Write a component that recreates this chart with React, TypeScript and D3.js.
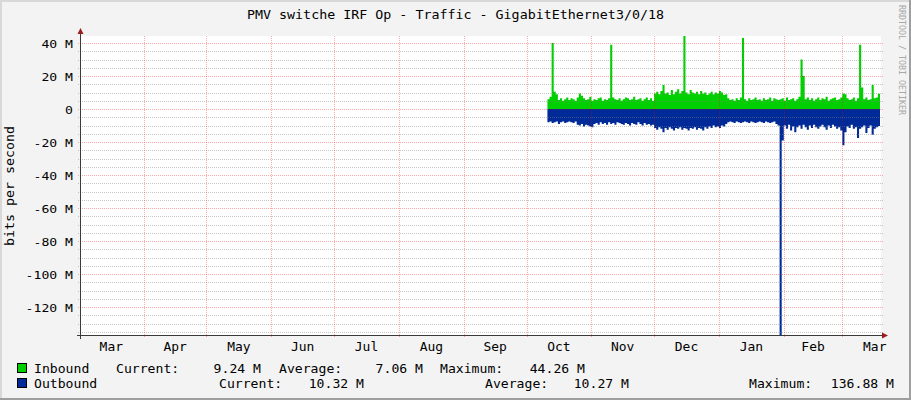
import React from 'react';
import * as d3 from 'd3';

const title = "PMV switche IRF Op - Traffic - GigabitEthernet3/0/18";
const yAxisTitle = "bits per second";
const watermark = "RRDTOOL / TOBI OETIKER";
const monthLabels = ["Mar", "Apr", "May", "Jun", "Jul", "Aug", "Sep", "Oct", "Nov", "Dec", "Jan", "Feb", "Mar"];
const yTickValues = [40, 20, 0, -20, -40, -60, -80, -100, -120];
const yTickLabels = ["40 M", "20 M", "0", "-20 M", "-40 M", "-60 M", "-80 M", "-100 M", "-120 M"];

// daily samples (Mbit/s) starting 2013-10-11
const inbound = [
  6.0, 7.5, 40.0, 10.5, 9.0, 5.5, 6.5, 5.0, 6.0, 7.0,
  5.5, 6.5, 6.0, 5.0, 7.0, 9.5, 8.0, 6.5, 5.5, 6.0,
  7.5, 5.0, 6.0, 5.5, 6.5, 7.0, 5.0, 6.0, 5.5, 6.5,
  39.0, 7.0, 6.0, 5.5, 6.5, 5.0, 6.0, 7.0, 6.5, 5.5,
  6.0, 7.5, 5.5, 6.0, 6.5, 5.0, 6.0, 7.0, 5.5, 6.5,
  5.0, 9.5, 10.5, 9.0, 11.0, 14.5, 9.5, 10.0, 8.5, 11.5,
  9.0, 10.5, 12.0, 9.5, 11.0, 44.26, 10.0, 9.0, 11.5, 10.0,
  9.5, 10.5, 9.0, 11.0, 9.5, 10.0, 8.5, 9.5, 10.5, 9.0,
  10.0, 9.5, 11.0, 10.0, 8.5, 9.0, 6.5, 5.5, 6.0, 5.0,
  6.5, 5.5, 7.0, 43.0, 6.0, 5.0, 6.5, 5.5, 6.0, 7.0,
  5.5, 6.0, 5.0, 6.5, 5.5, 6.0, 7.0, 5.0, 6.5, 6.0,
  5.5, 6.0, 6.5, 5.0, 7.0, 5.5, 6.0, 6.5, 5.0, 6.0,
  7.5, 30.0, 20.0, 6.0, 7.0, 5.5, 6.5, 5.0, 6.0, 7.0,
  5.5, 6.5, 6.0, 7.5, 5.0, 6.0, 6.5, 7.0, 5.5, 6.0,
  7.0, 9.5, 9.0, 6.5, 5.5, 6.0, 7.0, 5.0, 6.5, 39.0,
  13.0, 6.0, 7.0, 5.5, 6.0, 14.5, 6.5, 7.0, 9.24,
];
const outbound = [
  8.0, 7.5, 8.5, 8.0, 7.5, 9.0, 8.0, 7.5, 8.5, 8.0,
  7.5, 8.0, 8.5, 7.5, 9.5, 10.0, 9.0, 10.5, 9.5, 10.0,
  10.5, 11.0, 9.0, 8.5, 9.5, 8.0, 9.0, 8.5, 9.5, 8.0,
  9.0, 8.5, 9.5, 8.0, 8.5, 9.0, 9.5, 8.5, 9.0, 10.0,
  8.5, 9.0, 9.5, 8.0, 9.0, 10.0, 8.5, 9.5, 9.0, 10.0,
  9.5, 11.5, 12.5, 11.0, 12.0, 14.0, 11.5, 12.5, 11.0, 12.0,
  13.0, 11.5, 12.0, 11.0, 12.5, 11.5, 12.0, 13.0, 11.5, 12.0,
  11.0, 12.5, 11.5, 12.0, 13.0, 11.0, 12.0, 10.5, 11.5, 10.0,
  11.0, 10.5, 11.5, 10.0, 10.5, 9.0, 8.0, 7.5, 8.0, 8.5,
  7.5, 8.0, 8.5, 8.0, 7.5, 8.0, 8.5, 7.5, 8.0, 8.5,
  8.0, 7.5, 8.0, 8.5, 7.5, 8.0, 8.5, 8.0, 7.5, 9.0,
  10.0, 136.88, 19.0, 10.0, 12.0, 9.5, 13.0, 10.5, 14.0, 11.0,
  10.0, 12.0, 9.5, 11.0, 12.5, 10.0, 11.5, 9.5, 11.0, 12.0,
  10.5, 9.5, 11.0, 12.5, 10.0, 11.5, 9.5, 10.5, 12.0, 11.0,
  13.0, 22.0, 14.0, 10.5, 11.5, 9.5, 12.0, 11.0, 17.5, 12.0,
  11.0, 10.0, 14.5, 11.5, 10.0, 15.5, 12.0, 11.0, 10.32,
];

const seriesNames = ["Inbound", "Outbound"];
const seriesColors = ["#00cf00", "#002a97"];
const currentVals = ["9.24 M", "10.32 M"];
const averageVals = ["7.06 M", "10.27 M"];
const maximumVals = ["44.26 M", "136.88 M"];

const FONT = "'DejaVu Sans Mono', monospace";

function MonoText(props: { x: number; y: number; s: string; size: number; pitch: number; anchor?: 'start' | 'middle' | 'end'; fill?: string; transform?: string }) {
  const { x, y, s, size, pitch, anchor = 'start', fill = '#000', transform } = props;
  const len = s.length * pitch;
  let sx = x;
  if (anchor === 'end') sx = x - len;
  if (anchor === 'middle') sx = x - len / 2;
  return (
    <text x={sx} y={y} fontFamily={FONT} fontSize={size} fill={fill} textLength={len} lengthAdjust="spacingAndGlyphs" transform={transform} style={{ whiteSpace: 'pre' }}>
      {s}
    </text>
  );
}

export default function App() {
  const W = 911, H = 400;
  const left = 81, right = 880, top = 36, bottom = 335;
  const x = d3.scaleTime().domain([new Date(2013, 2, 2), new Date(2014, 2, 19)]).range([left, right]);
  const y = d3.scaleLinear().domain([-136.88, 44.26]).range([bottom, top]);

  const day = (i: number) => new Date(2013, 9, 11 + i);
  const inPts: [Date, number][] = inbound.map((v, i) => [day(i), v]);
  inPts.push([day(inbound.length), inbound[inbound.length - 1]]);
  const outPts: [Date, number][] = outbound.map((v, i) => [day(i), -v]);
  outPts.push([day(outbound.length), -outbound[outbound.length - 1]]);

  const area = d3.area<[Date, number]>()
    .x(d => x(d[0]))
    .y0(y(0))
    .y1(d => y(d[1]))
    .curve(d3.curveStepAfter);

  const monthStarts = d3.timeMonth.range(new Date(2013, 3, 1), new Date(2014, 2, 2));
  const labelMonths = d3.timeMonth.range(new Date(2013, 2, 1), new Date(2014, 2, 2));
  const minorTicks = d3.range(-135, 45, 5).filter(v => v % 20 !== 0);

  const legendRows = [373, 388];

  return (
    <svg width={W} height={H} style={{ position: 'absolute', left: 0, top: 0 }}>
      <rect x={0} y={0} width={W} height={H} fill="#f3f3f3" />
      <rect x={left} y={top} width={right - left + 1} height={bottom - top} fill="#ffffff" />

      {/* data */}
      <path d={area(outPts) || ''} fill={seriesColors[1]} />
      <path d={area(inPts) || ''} fill={seriesColors[0]} />

      {/* minor grid */}
      {minorTicks.map(v => (
        <line key={'mn' + v} x1={78} x2={884} y1={Math.round(y(v)) + 0.5} y2={Math.round(y(v)) + 0.5}
          stroke="rgba(130,130,130,0.45)" strokeDasharray="1,1" />
      ))}
      {/* major grid */}
      {yTickValues.map(v => (
        <line key={'mj' + v} x1={78} x2={884} y1={Math.round(y(v)) + 0.5} y2={Math.round(y(v)) + 0.5}
          stroke="rgba(255,0,0,0.33)" strokeDasharray="1,1" />
      ))}
      {monthStarts.map(m => (
        <line key={'vm' + m.getTime()} x1={Math.round(x(m)) + 0.5} x2={Math.round(x(m)) + 0.5} y1={top} y2={bottom + 3}
          stroke="rgba(255,0,0,0.33)" strokeDasharray="1,1" />
      ))}

      {/* axes */}
      <line x1={80.5} x2={80.5} y1={bottom + 4} y2={31} stroke="#3a3a3a" />
      <path d="M77.5,34 L83.5,34 L80.5,28 Z" fill="#9b1c1c" />
      <line x1={77} x2={883} y1={bottom + 0.5} y2={bottom + 0.5} stroke="#3a3a3a" />
      <path d="M882,332.5 L882,338.5 L888,335.5 Z" fill="#9b1c1c" />

      {/* y labels */}
      {yTickValues.map((v, i) => (
        <MonoText key={'yl' + v} x={73} y={y(v) + 4.5} s={yTickLabels[i]} size={11} pitch={7.9} anchor="end" />
      ))}
      {/* x labels */}
      {labelMonths.map((m, i) => {
        const next = d3.timeMonth.offset(m, 1);
        const mid = new Date((m.getTime() + next.getTime()) / 2);
        return <MonoText key={'xl' + i} x={x(mid)} y={351} s={monthLabels[i]} size={11.5} pitch={7.8} anchor="middle" />;
      })}

      {/* title */}
      <MonoText x={455.5} y={19} s={title} size={13} pitch={8.02} anchor="middle" />
      {/* y axis title */}
      <MonoText x={0} y={0} s={yAxisTitle} size={12.5} pitch={8} anchor="middle" transform="translate(14,186) rotate(-90)" />
      {/* watermark */}
      <MonoText x={0} y={0} s={watermark} size={8} pitch={5} anchor="middle" fill="#a8a8a8" transform="translate(899,60) rotate(90)" />

      {/* legend */}
      {seriesNames.map((n, i) => (
        <g key={'lg' + n}>
          <rect x={17.5} y={legendRows[i] - 9.5} width={9} height={9} fill={seriesColors[i]} stroke="#000" />
          <MonoText x={34} y={legendRows[i]} s={n} size={13} pitch={7.9} />
        </g>
      ))}
      <MonoText x={116} y={legendRows[0]} s="Current:" size={13} pitch={7.9} />
      <MonoText x={261} y={legendRows[0]} s={currentVals[0]} size={13} pitch={7.9} anchor="end" />
      <MonoText x={279} y={legendRows[0]} s="Average:" size={13} pitch={7.9} />
      <MonoText x={423} y={legendRows[0]} s={averageVals[0]} size={13} pitch={7.9} anchor="end" />
      <MonoText x={440} y={legendRows[0]} s="Maximum:" size={13} pitch={7.9} />
      <MonoText x={585} y={legendRows[0]} s={maximumVals[0]} size={13} pitch={7.9} anchor="end" />

      <MonoText x={219} y={legendRows[1]} s="Current:" size={13} pitch={7.9} />
      <MonoText x={364} y={legendRows[1]} s={currentVals[1]} size={13} pitch={7.9} anchor="end" />
      <MonoText x={485} y={legendRows[1]} s="Average:" size={13} pitch={7.9} />
      <MonoText x={629} y={legendRows[1]} s={averageVals[1]} size={13} pitch={7.9} anchor="end" />
      <MonoText x={749} y={legendRows[1]} s="Maximum:" size={13} pitch={7.9} />
      <MonoText x={894} y={legendRows[1]} s={maximumVals[1]} size={13} pitch={7.9} anchor="end" />

      {/* frame shading */}
      <rect x={0} y={0} width={W} height={2} fill="#d8d8d8" />
      <rect x={0} y={0} width={2} height={H} fill="#d8d8d8" />
      <rect x={0} y={H - 2} width={W} height={2} fill="#9e9e9e" />
      <rect x={W - 2} y={0} width={2} height={H} fill="#9e9e9e" />
    </svg>
  );
}
